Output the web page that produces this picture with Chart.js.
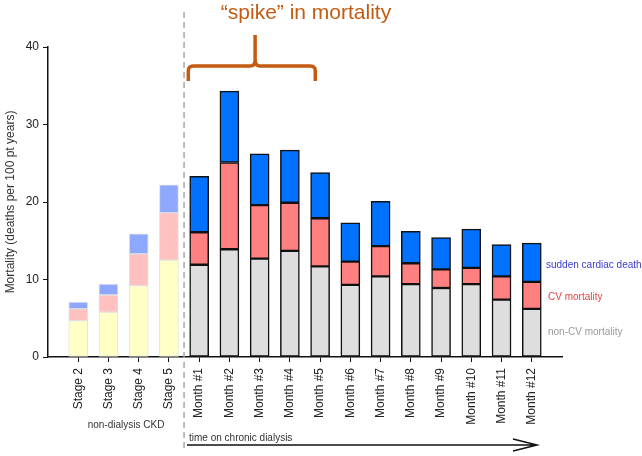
<!DOCTYPE html>
<html>
<head>
<meta charset="utf-8">
<script src="https://cdn.jsdelivr.net/npm/chart.js@4"></script>
<style>
html, body { margin: 0; padding: 0; background: #fff; }
</style>
</head>
<body>
<canvas id="myChart" width="642" height="456"></canvas>
<script>
var categories = ['Stage 2', 'Stage 3', 'Stage 4', 'Stage 5',
  'Month #1', 'Month #2', 'Month #3', 'Month #4', 'Month #5', 'Month #6',
  'Month #7', 'Month #8', 'Month #9', 'Month #10', 'Month #11', 'Month #12'];
var nonCV = [4.7, 5.8, 9.2, 12.5, 11.9, 13.9, 12.7, 13.7, 11.7, 9.3, 10.4, 9.4, 8.9, 9.4, 7.4, 6.2];
var cvMortality = [1.5, 2.2, 4.1, 6.1, 4.2, 11.2, 6.9, 6.2, 6.2, 3.0, 3.9, 2.7, 2.4, 2.1, 3.0, 3.5];
var suddenCardiac = [0.9, 1.4, 2.6, 3.6, 7.2, 9.2, 6.6, 6.8, 5.9, 5.0, 5.8, 4.1, 4.1, 5.0, 4.1, 5.0];
var yTicks = [0, 10, 20, 30, 40];
var nStages = 4; // first bars are pre-dialysis (faded colours)

function points(arr) {
  return arr.map(function (v, i) { return { x: i, y: v }; });
}
function colours(faded, solid) {
  return categories.map(function (c, i) { return i < nStages ? faded : solid; });
}

function makeSet(label, arr, faded, solid) {
  return {
    label: label,
    data: points(arr),
    backgroundColor: colours(faded, solid),
    borderColor: colours('#e2e2e2', '#111'),
    borderWidth: categories.map(function (c, i) { return i < nStages ? 1 : 1.5; }),
    borderSkipped: false,
    barThickness: 19
  };
}

var overlay = {
  id: 'overlay',
  afterDatasetsDraw: function (chart) {
    var ctx = chart.ctx, xs = chart.scales.x;
    ctx.save();

    // divider between CKD stages and dialysis months
    var dx = xs.getPixelForValue(3.5);
    ctx.strokeStyle = '#a8a8a8';
    ctx.lineWidth = 1.5;
    ctx.setLineDash([6, 4]);
    ctx.beginPath(); ctx.moveTo(dx, 12); ctx.lineTo(dx, 452); ctx.stroke();
    ctx.setLineDash([]);

    // bracket over the first months
    var bl = xs.getPixelForValue(3.64), br = xs.getPixelForValue(7.84), bm = xs.getPixelForValue(5.85);
    ctx.strokeStyle = '#c55a11';
    ctx.lineWidth = 3.5;
    ctx.beginPath();
    ctx.moveTo(bl, 81); ctx.lineTo(bl, 71);
    ctx.quadraticCurveTo(bl, 66, bl + 5, 66);
    ctx.lineTo(bm - 5, 66);
    ctx.quadraticCurveTo(bm, 66, bm, 60);
    ctx.lineTo(bm, 35);
    ctx.moveTo(br, 81); ctx.lineTo(br, 71);
    ctx.quadraticCurveTo(br, 66, br - 5, 66);
    ctx.lineTo(bm + 5, 66);
    ctx.quadraticCurveTo(bm, 66, bm, 60);
    ctx.stroke();

    ctx.fillStyle = '#c55a11';
    ctx.font = '21px "Liberation Sans", Arial, sans-serif';
    ctx.textAlign = 'center';
    ctx.textBaseline = 'alphabetic';
    ctx.fillText('\u201cspike\u201d in mortality', 306, 19);

    // series labels at the right
    ctx.font = '10px "Liberation Sans", Arial, sans-serif';
    ctx.textAlign = 'left';
    ctx.textBaseline = 'middle';
    ctx.fillStyle = '#3a3ad0';
    ctx.fillText('sudden cardiac death', 546, 265);
    ctx.fillStyle = '#e04444';
    ctx.fillText('CV mortality', 548, 297);
    ctx.fillStyle = '#9a9a9a';
    ctx.fillText('non-CV mortality', 548, 332);

    // group captions
    ctx.fillStyle = '#333';
    ctx.textAlign = 'center';
    ctx.fillText('non-dialysis CKD', 126, 425);
    ctx.textAlign = 'left';
    ctx.fillText('time on chronic dialysis', 189, 438);

    // time arrow
    ctx.strokeStyle = '#111';
    ctx.lineWidth = 1.5;
    ctx.beginPath();
    ctx.moveTo(187, 445); ctx.lineTo(537, 445);
    ctx.moveTo(513, 439); ctx.lineTo(537, 445); ctx.lineTo(513, 451);
    ctx.stroke();

    ctx.restore();
  }
};

var config = {
  type: 'bar',
  data: {
    datasets: [
      makeSet('non-CV mortality', nonCV, '#ffffc6', '#dedede'),
      makeSet('CV mortality', cvMortality, '#ffc0c0', '#ff8080'),
      makeSet('sudden cardiac death', suddenCardiac, '#8fa8ff', '#0072ff')
    ]
  },
  options: {
    responsive: false,
    animation: false,
    layout: { padding: { top: 47, right: 80, left: 0, bottom: 0 } },
    plugins: { legend: { display: false }, tooltip: { enabled: false } },
    scales: {
      x: {
        type: 'linear',
        stacked: true,
        offset: false,
        min: -1,
        max: 16,
        afterBuildTicks: function (scale) {
          scale.ticks = categories.map(function (c, i) { return { value: i }; });
        },
        afterFit: function (scale) { scale.height = 99; },
        grid: { drawOnChartArea: false, offset: false, tickLength: 5, color: '#111', lineWidth: 1 },
        border: { color: '#111', width: 1.5 },
        ticks: {
          autoSkip: false,
          minRotation: 90,
          maxRotation: 90,
          padding: 6,
          color: '#222',
          font: { family: '"Liberation Sans", Arial, sans-serif', size: 12 },
          callback: function (value) { return categories[value]; }
        }
      },
      y: {
        stacked: true,
        min: 0,
        max: 40,
        afterBuildTicks: function (scale) {
          scale.ticks = yTicks.map(function (v) { return { value: v }; });
        },
        afterFit: function (scale) { scale.width = 48; },
        grid: { drawOnChartArea: false, tickLength: 5, color: '#111', lineWidth: 1 },
        border: { color: '#111', width: 1.5 },
        ticks: {
          padding: 4,
          color: '#222',
          font: { family: '"Liberation Sans", Arial, sans-serif', size: 12 }
        },
        title: {
          display: true,
          text: 'Mortality (deaths per 100 pt years)',
          color: '#333',
          padding: { top: 3, bottom: 0 },
          font: { family: '"Liberation Sans", Arial, sans-serif', size: 12 }
        }
      }
    }
  },
  plugins: [overlay]
};

var ctx = document.getElementById('myChart').getContext('2d');
var myChart = new Chart(ctx, config);
</script>
</body>
</html>
